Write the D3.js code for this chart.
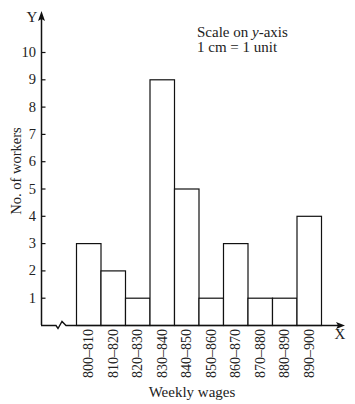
<!DOCTYPE html>
<html><head><meta charset="utf-8">
<script src="https://cdn.jsdelivr.net/npm/d3@7"></script>
<style>body{margin:0;background:#fff}svg{display:block;font-family:"Liberation Serif","Times New Roman",serif}</style>
</head><body><svg id="c" width="355" height="404"></svg>
<script>
const categories = ["800–810","810–820","820–830","830–840","840–850","850–860","860–870","870–880","880–890","890–900"];
const workers = [3,2,1,9,5,1,3,1,1,4];
const yTicks = [1,2,3,4,5,6,7,8,9,10];

const svg = d3.select("#c");
const x0 = 41, base = 325;
const x = d3.scaleBand().domain(categories).range([76, 321]).padding(0);
const y = d3.scaleLinear().domain([0, 10]).range([base, 52]);

// bars
svg.selectAll("rect.bar").data(workers).join("rect")
  .attr("x", (d,i) => x(categories[i]) + 0.5)
  .attr("y", d => y(d) + 0.5)
  .attr("width", x.bandwidth())
  .attr("height", d => base - y(d))
  .attr("fill", "#fff").attr("stroke", "#111").attr("stroke-width", 1.2);

// y axis
const yAxis = d3.axisRight(y).tickValues(yTicks).tickSize(4).tickFormat("");
const gy = svg.append("g").attr("transform", `translate(${x0+0.5},0)`).call(yAxis);
gy.select(".domain").remove();
gy.selectAll(".tick line").attr("stroke", "#111").attr("stroke-width", 1.2);
svg.append("line").attr("x1", x0+0.5).attr("x2", x0+0.5).attr("y1", base).attr("y2", 18)
  .attr("stroke", "#111").attr("stroke-width", 1.5);
svg.append("path").attr("d", `M${x0+0.5},11 L${x0-3},21 L${x0+0.5},19 L${x0+4},21 Z`).attr("fill", "#111");
svg.selectAll("text.yt").data(yTicks).join("text")
  .attr("x", 36).attr("y", d => y(d) + 5).attr("text-anchor", "end")
  .attr("font-size", 14.5).attr("fill", "#222").text(d => d);
svg.append("text").attr("x", 32).attr("y", 22).attr("text-anchor", "middle").attr("font-size", 15).attr("fill","#222").text("Y");

// x axis with zigzag
svg.append("path")
  .attr("d", `M${x0},${base+0.5} L56,${base+0.5} L58,${base+3.5} L62,${base-3.5} L66,${base+0.5} L339,${base+0.5}`)
  .attr("fill", "none").attr("stroke", "#111").attr("stroke-width", 1.4);
svg.append("path").attr("d", `M345,${base+0.5} L336,${base-3} L338,${base+0.5} L336,${base+4} Z`).attr("fill", "#111");
svg.append("text").attr("x", 340).attr("y", 339).attr("text-anchor", "middle").attr("font-size", 15).attr("fill","#222").text("X");

// category labels
svg.selectAll("text.xt").data(categories).join("text")
  .attr("transform", d => `translate(${x(d) + x.bandwidth()/2 + 5},329) rotate(-90)`)
  .attr("text-anchor", "end").attr("font-size", 14).attr("fill", "#222").text(d => d);

svg.append("text").attr("x", 192).attr("y", 397).attr("text-anchor", "middle").attr("font-size", 15).attr("fill","#222").text("Weekly wages");
svg.append("text").attr("transform", "translate(21,171) rotate(-90)").attr("text-anchor", "middle").attr("font-size", 14.5).attr("fill","#222").text("No. of workers");

const note = svg.append("text").attr("x", 197).attr("y", 37).attr("font-size", 15).attr("fill","#222");
note.append("tspan").text("Scale on ");
note.append("tspan").attr("font-style", "italic").text("y");
note.append("tspan").text("-axis");
svg.append("text").attr("x", 197).attr("y", 52).attr("font-size", 15).attr("fill","#222").text("1 cm = 1 unit");
</script></body></html>
